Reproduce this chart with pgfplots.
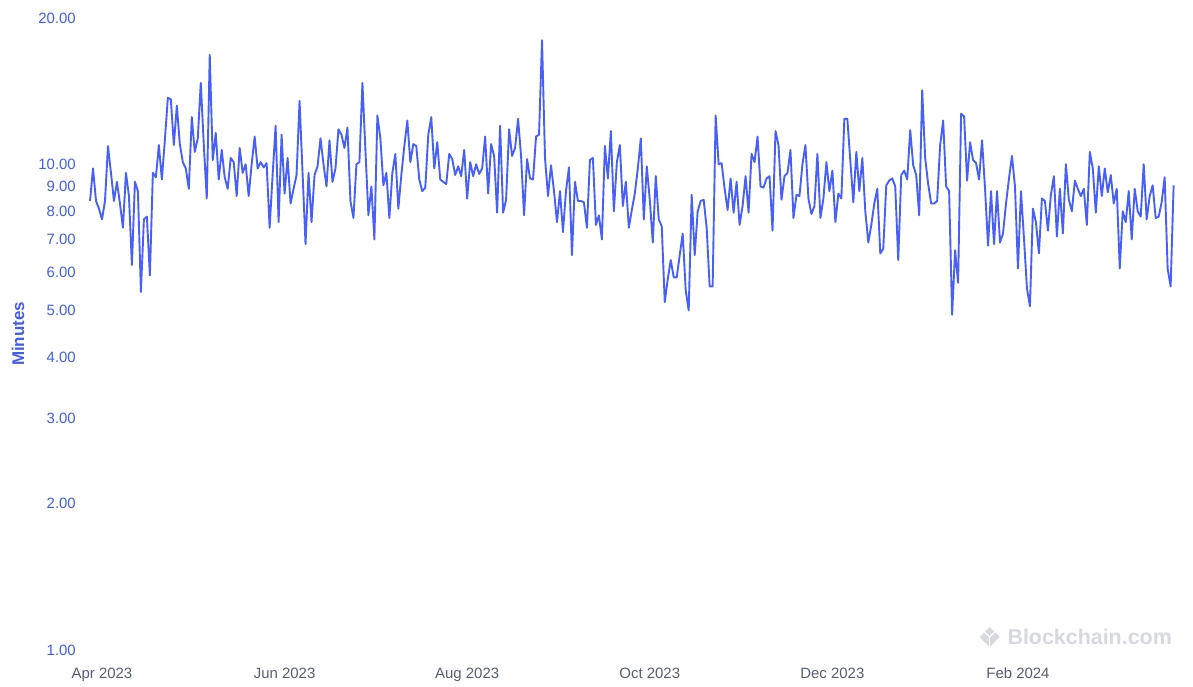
\documentclass[border=0pt]{standalone}
\usepackage{pgfplots}
\pgfplotsset{compat=1.18}
\usepackage{pgfplotstable}
\usepackage{fontspec}
\setmainfont{Liberation Sans}
\definecolor{lineblue}{RGB}{72,96,245}
\definecolor{tickblue}{RGB}{66,92,240}
\definecolor{dategray}{RGB}{85,94,112}
\definecolor{wm}{RGB}{214,217,222}

\pgfplotstableread{
day value
-4 8.4
-3 9.8
-2 8.4
-1 8.1
0 7.7
1 8.4
2 10.9
3 9.6
4 8.4
5 9.2
6 8.3
7 7.4
8 9.6
9 8.6
10 6.2
11 9.2
12 8.8
13 5.46
14 7.7
15 7.8
16 5.9
17 9.6
18 9.4
19 10.95
20 9.3
21 11.2
22 13.7
23 13.6
24 10.95
25 13.2
26 11.0
27 10.1
28 9.8
29 8.9
30 12.5
31 10.6
32 11.3
33 14.7
34 11.0
35 8.5
36 16.8
37 10.2
38 11.6
39 9.3
40 10.7
41 9.4
42 8.9
43 10.3
44 10.1
45 8.6
46 10.8
47 9.6
48 10.0
49 8.6
50 10.0
51 11.4
52 9.8
53 10.1
54 9.85
55 10.05
56 7.4
57 9.5
58 12.0
59 7.6
60 11.5
61 8.7
62 10.3
63 8.3
64 8.9
65 9.5
66 13.5
67 9.6
68 6.85
69 9.6
70 7.6
71 9.5
72 9.9
73 11.3
74 10.0
75 9.0
76 11.2
77 9.2
78 9.8
79 11.8
80 11.5
81 10.8
82 11.9
83 8.4
84 7.75
85 10.0
86 10.1
87 14.7
88 10.7
89 7.85
90 9.0
91 7.0
92 12.6
93 11.3
94 9.05
95 9.6
96 7.75
97 9.6
98 10.5
99 8.1
100 9.5
101 10.9
102 12.3
103 10.1
104 11.0
105 10.9
106 9.3
107 8.8
108 8.95
109 11.5
110 12.5
111 9.8
112 11.1
113 9.3
114 9.2
115 9.1
116 10.5
117 10.25
118 9.5
119 9.9
120 9.45
121 10.7
122 8.5
123 10.1
124 9.45
125 10.0
126 9.55
127 9.8
128 11.4
129 8.7
130 11.0
131 10.4
132 7.95
133 12.0
134 7.95
135 8.45
136 11.8
137 10.4
138 10.8
139 12.4
140 10.4
141 7.85
142 10.25
143 9.35
144 9.3
145 11.4
146 11.5
147 18.0
148 10.3
149 8.6
150 9.95
151 8.8
152 7.6
153 8.8
154 7.25
155 8.8
156 9.85
157 6.5
158 9.2
159 8.4
160 8.4
161 8.35
162 7.4
163 10.2
164 10.3
165 7.5
166 7.85
167 7.0
168 10.9
169 9.35
170 11.7
171 8.0
172 10.1
173 10.95
174 8.2
175 9.2
176 7.4
177 8.05
178 8.7
179 9.8
180 11.3
181 7.7
182 9.9
183 8.45
184 6.9
185 9.45
186 7.7
187 7.45
188 5.2
189 5.8
190 6.35
191 5.85
192 5.85
193 6.5
194 7.2
195 5.5
196 5.0
197 8.65
198 6.5
199 8.0
200 8.4
201 8.45
202 7.4
203 5.6
204 5.6
205 12.6
206 10.0
207 10.05
208 8.9
209 8.05
210 9.35
211 7.95
212 9.2
213 7.5
214 8.2
215 9.45
216 7.95
217 10.5
218 10.1
219 11.4
220 9.0
221 8.95
222 9.35
223 9.45
224 7.3
225 11.7
226 10.95
227 8.45
228 9.45
229 9.6
230 10.7
231 7.75
232 8.65
233 8.6
234 10.0
235 10.95
236 8.5
237 7.9
238 8.2
239 10.5
240 7.75
241 8.5
242 10.1
243 8.8
244 9.7
245 7.6
246 8.7
247 8.5
248 12.4
249 12.4
250 10.15
251 8.35
252 10.6
253 8.8
254 10.3
255 8.0
256 6.9
257 7.5
258 8.3
259 8.9
260 6.55
261 6.7
262 9.05
263 9.25
264 9.35
265 9.0
266 6.35
267 9.5
268 9.7
269 9.3
270 11.75
271 9.95
272 9.5
273 7.85
274 14.2
275 10.3
276 9.1
277 8.3
278 8.3
279 8.4
280 10.95
281 12.3
282 9.0
283 8.8
284 4.9
285 6.65
286 5.7
287 12.7
288 12.55
289 9.25
290 11.1
291 10.2
292 10.05
293 9.3
294 11.2
295 8.9
296 6.8
297 8.8
298 6.85
299 8.8
300 6.9
301 7.2
302 8.3
303 9.35
304 10.4
305 9.0
306 6.1
307 8.8
308 7.05
309 5.55
310 5.1
311 8.1
312 7.6
313 6.55
314 8.5
315 8.4
316 7.3
317 8.65
318 9.45
319 7.1
320 8.9
321 7.2
322 10.0
323 8.45
324 8.0
325 9.25
326 8.9
327 8.6
328 8.9
329 7.5
330 10.6
331 9.8
332 7.95
333 9.9
334 8.6
335 9.8
336 8.75
337 9.5
338 8.3
339 8.9
340 6.1
341 8.0
342 7.6
343 8.8
344 7.0
345 8.9
346 8.0
347 7.8
348 10.0
349 7.7
350 8.6
351 9.05
352 7.75
353 7.8
354 8.35
355 9.4
356 6.1
357 5.6
358 9.05
}\blocktime

\begin{document}
\begin{tikzpicture}
\path[use as bounding box] (-85.5bp,-37bp) rectangle (1107.5bp,650bp);
\begin{axis}[
  at={(0,0)}, anchor=south west,
  scale only axis, width=1093.5bp, height=632bp,
  ymode=log, ymin=1, ymax=20, xmin=-5.51, xmax=359.8,
  axis line style={draw=none},
  major tick length=0pt, minor tick length=0pt,
  ytick={1,2,3,4,5,6,7,8,9,10,20},
  yticklabels={1.00,2.00,3.00,4.00,5.00,6.00,7.00,8.00,9.00,10.00,20.00},
  xtick={0,61,122,183,244,306},
  xticklabels={Apr 2023,Jun 2023,Aug 2023,Oct 2023,Dec 2023,Feb 2024},
  yticklabel style={font=\fontsize{15}{18}\selectfont, text=tickblue, anchor=east, inner sep=0pt, xshift=-9.5bp},
  xticklabel style={font=\fontsize{15}{18}\selectfont, text=dategray, anchor=base, inner sep=0pt, yshift=-28bp},
  ylabel={Minutes},
  every axis y label/.style={at={(axis description cs:-0.0617,0.5)}, rotate=90, anchor=center, font=\bfseries\fontsize{17}{20}\selectfont, text=tickblue},
  clip=false,
]
\addplot[lineblue, line width=1.9bp, line join=round, mark=none] table[x=day,y=value]{\blocktime};
\end{axis}
% watermark
\fill[wm] (904bp,23bp) -- (914bp,13bp) -- (904bp,3bp) -- (894bp,13bp) -- cycle;
\draw[white, line width=1.3bp] (899bp,18bp) -- (904bp,13bp) -- (909bp,18bp);
\draw[white, line width=1.3bp] (904bp,13bp) -- (904bp,3bp);
\node[anchor=east, text=wm, font=\bfseries\fontsize{21.5}{24}\selectfont, inner sep=0pt] at (1086.5bp,13bp) {Blockchain.com};
\end{tikzpicture}
\end{document}
